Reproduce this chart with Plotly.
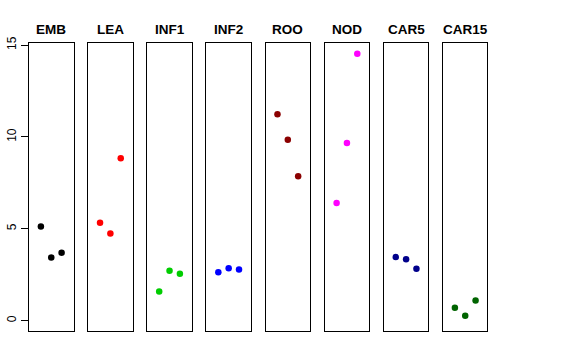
import plotly.graph_objects as go

categories = ["EMB", "LEA", "INF1", "INF2", "ROO", "NOD", "CAR5", "CAR15"]
colors = ["#000000", "#FF0000", "#00CD00", "#0000FF", "#8B0000", "#FF00FF", "#00008B", "#006400"]
replicate = [1, 2, 3]
emb = [5.13, 3.44, 3.70]
lea = [5.33, 4.75, 8.84]
inf1 = [1.59, 2.72, 2.55]
inf2 = [2.63, 2.86, 2.79]
roo = [11.23, 9.85, 7.86]
nod = [6.41, 9.67, 14.53]
car5 = [3.46, 3.35, 2.83]
car15 = [0.71, 0.27, 1.10]
series = [emb, lea, inf1, inf2, roo, nod, car5, car15]
ytick_vals = [0, 5, 10, 15]

W, H = 576, 360
left0, step, pw = 29.0, 59.14, 44.5
top_px, bot_px = 43.0, 331.0

fig = go.Figure()
font_family = "Liberation Sans, Arial, Helvetica, sans-serif"
annotations = []
for i, (cat, col, vals) in enumerate(zip(categories, colors, series)):
    n = i + 1
    xa = "x" if n == 1 else f"x{n}"
    ya = "y" if n == 1 else f"y{n}"
    fig.add_trace(go.Scatter(
        x=replicate, y=vals, mode="markers",
        marker=dict(color=col, size=6.5, line=dict(width=0)),
        xaxis=xa, yaxis=ya, showlegend=False, hoverinfo="skip"))
    x0 = (left0 + step * i) / W
    x1 = (left0 + step * i + pw) / W
    xkey = "xaxis" if n == 1 else f"xaxis{n}"
    ykey = "yaxis" if n == 1 else f"yaxis{n}"
    fig.layout[xkey] = dict(
        domain=[x0, x1], range=[-0.15, 4.15], anchor=ya,
        showgrid=False, zeroline=False, showticklabels=False, ticks="",
        showline=True, mirror=True, linecolor="#000000", linewidth=1,
        fixedrange=True, automargin=False)
    yconf = dict(
        domain=[1 - bot_px / H, 1 - top_px / H], range=[-0.56, 15.11], anchor=xa,
        showgrid=False, zeroline=False,
        showline=True, mirror=True, linecolor="#000000", linewidth=1,
        fixedrange=True, automargin=False)
    if n == 1:
        yconf.update(tickvals=ytick_vals, ticks="outside", ticklen=7,
                     tickcolor="#000000", tickwidth=1, showticklabels=True,
                     tickangle=-90,
                     tickfont=dict(family=font_family, size=12, color="#000000"))
    else:
        yconf.update(showticklabels=False, ticks="")
    fig.layout[ykey] = yconf
    annotations.append(dict(
        text=f"<b>{cat}</b>", x=(x0 + x1) / 2, y=1 - 29.5 / H,
        xref="paper", yref="paper", xanchor="center", yanchor="middle",
        showarrow=False,
        font=dict(family=font_family, size=13.5, color="#000000")))

fig.update_layout(
    width=W, height=H,
    margin=dict(l=0, r=0, t=0, b=0),
    paper_bgcolor="white", plot_bgcolor="white",
    annotations=annotations,
    font=dict(family=font_family))

fig.write_html("out.html", config={"displayModeBar": False, "staticPlot": True},
               post_script="document.body.style.margin='0px';")
